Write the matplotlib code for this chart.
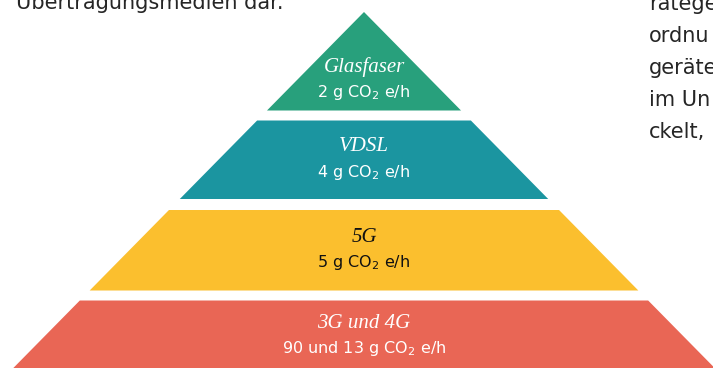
import matplotlib
matplotlib.use("Agg")
import matplotlib.pyplot as plt
from matplotlib.patches import Polygon

plt.rcParams["mathtext.fontset"] = "dejavusans"

# pyramid tiers, top to bottom
tiers = ["Glasfaser", "VDSL", "5G", "3G und 4G"]
emissions = ["2 g CO$_2$ e/h", "4 g CO$_2$ e/h", "5 g CO$_2$ e/h", "90 und 13 g CO$_2$ e/h"]
colors = ["#28a07c", "#1b95a0", "#fbbf2e", "#e96655"]
text_colors = ["white", "white", "#111111", "white"]

# surrounding page text (cut off by the crop)
left_text = ["Übertragungsmedien dar."]
right_text = ["ratege", "ordnu", "geräte", "im Un", "ckelt,"]

# layout in pixels
W, H = 713, 368
apex_x, apex_y = 364, 12
slope = 0.985  # half width per pixel of height
tier_edges = [(12, 110.5), (120.5, 199), (210, 290.5), (300.5, 390)]
label_mid = [80, 159.5, 250, 336]

fig = plt.figure(figsize=(W / 100, H / 100), dpi=100)
ax = fig.add_axes([0, 0, 1, 1])
ax.set_xlim(0, W)
ax.set_ylim(H, 0)
ax.axis("off")


def half(y):
    return (y - apex_y) * slope


for i, name in enumerate(tiers):
    y0, y1 = tier_edges[i]
    pts = [
        (apex_x - half(y0), y0),
        (apex_x + half(y0), y0),
        (apex_x + half(y1), y1),
        (apex_x - half(y1), y1),
    ]
    ax.add_patch(Polygon(pts, closed=True, facecolor=colors[i], edgecolor="none"))
    ax.text(apex_x, label_mid[i] - 13, name, ha="center", va="center",
            family="Liberation Serif", style="italic", fontsize=15,
            color=text_colors[i])
    ax.text(apex_x, label_mid[i] + 17.5, emissions[i], ha="center", va="baseline",
            family="DejaVu Sans", fontsize=11.5, color=text_colors[i])

for i, t in enumerate(left_text):
    ax.text(16, 9 + i * 32, t, ha="left", va="baseline", family="DejaVu Sans",
            fontsize=15, color="#262626")

for i, t in enumerate(right_text):
    ax.text(649, 10.5 + i * 32, t, ha="left", va="baseline", family="DejaVu Sans",
            fontsize=15, color="#262626")

fig.savefig("out.png", dpi=100)
